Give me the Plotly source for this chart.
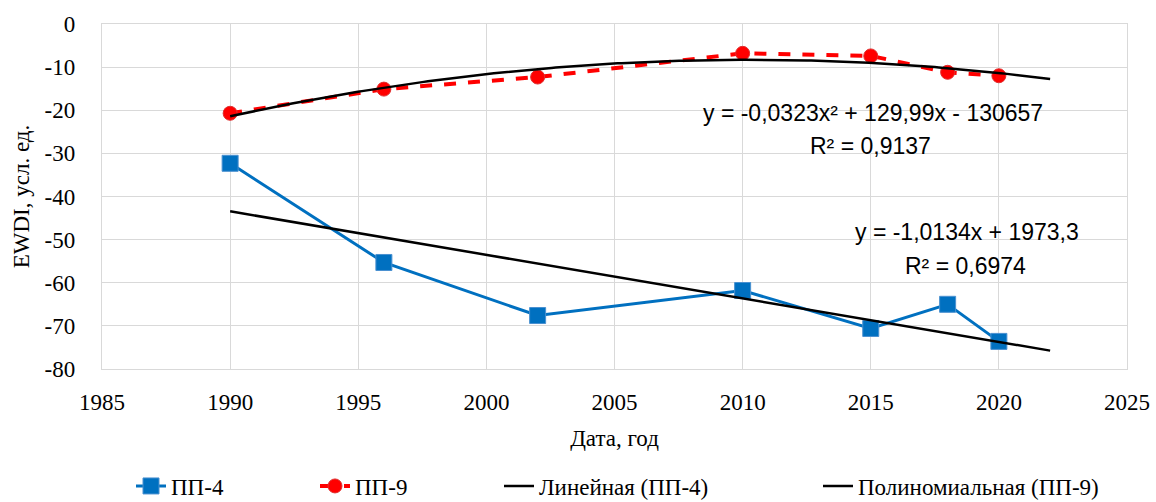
import numpy as np
import plotly.graph_objects as go

years = [1990, 1996, 2002, 2010, 2015, 2018, 2020]
pp4 = [-32.3, -55.3, -67.6, -61.8, -70.6, -65.0, -73.6]
pp9 = [-20.7, -15.1, -12.3, -6.8, -7.4, -11.2, -12.0]
trend_end = 2022
names = ["ПП-4", "ПП-9", "Линейная (ПП-4)", "Полиномиальная (ПП-9)"]
eq_lin = ["y = -1,0134x + 1973,3", "R² = 0,6974"]
eq_poly = ["y = -0,0323x² + 129,99x - 130657", "R² = 0,9137"]
y_tickvals = [0, -10, -20, -30, -40, -50, -60, -70, -80]
y_ticktext = ["0", "-10", "-20", "-30", "-40", "-50", "-60", "-70", "-80"]

x = np.array(years, dtype=float)
xc = x.mean()
xt = np.linspace(years[0], trend_end, 200)
lin = np.polyfit(x - xc, pp4, 1)
poly = np.polyfit(x - xc, pp9, 2)

fig = go.Figure()
fig.add_trace(go.Scatter(x=years, y=pp4, name=names[0], mode="lines+markers",
                         line=dict(color="#0070C0", width=3), legend="legend",
                         marker=dict(symbol="square", size=16, color="#0070C0",
                                     line=dict(color="#4a90d0", width=1))))
fig.add_trace(go.Scatter(x=years, y=pp9, name=names[1], mode="lines+markers",
                         line=dict(color="#FF0000", width=4, dash="dash"), legend="legend2",
                         marker=dict(symbol="circle", size=14, color="#FF0000",
                                     line=dict(color="#e03030", width=1))))
fig.add_trace(go.Scatter(x=xt, y=np.polyval(lin, xt - xc), name=names[2], mode="lines",
                         line=dict(color="black", width=2.5), legend="legend3"))
fig.add_trace(go.Scatter(x=xt, y=np.polyval(poly, xt - xc), name=names[3], mode="lines",
                         line=dict(color="black", width=2.5), legend="legend4"))

ann_font = dict(family="Liberation Sans, Arial", size=23, color="black")
for txt, xx, yy in zip(eq_poly, [2015.1, 2015.0], [-20.7, -28.4]):
    fig.add_annotation(x=xx, y=yy, text=txt, showarrow=False, font=ann_font,
                       xanchor="center", yanchor="middle")
for txt, xx, yy in zip(eq_lin, [2018.75, 2018.7], [-48.3, -56.1]):
    fig.add_annotation(x=xx, y=yy, text=txt, showarrow=False, font=ann_font,
                       xanchor="center", yanchor="middle")

grid = "#d9d9d9"
axis_font = dict(family="Liberation Serif", size=23, color="black")


def leg(xpix):
    return dict(orientation="h", xref="container", yref="container",
                x=xpix / 1156, xanchor="left", y=(502 - 486) / 502, yanchor="middle",
                font=axis_font, bgcolor="rgba(0,0,0,0)")


fig.update_layout(
    width=1156, height=502,
    margin=dict(l=102, r=29, t=24, b=133, autoexpand=False),
    plot_bgcolor="white", paper_bgcolor="white",
    font=axis_font,
    xaxis=dict(range=[1985, 2025], dtick=5, tick0=1985, showgrid=True, gridcolor=grid,
               gridwidth=1.3, showline=True, linecolor=grid, linewidth=1.3, mirror=True,
               zeroline=False, ticks="", tickfont=axis_font, ticklabelstandoff=12,
               automargin=False, ticklabeloverflow="allow",
               title=dict(text="Дата, год", font=axis_font, standoff=16)),
    yaxis=dict(range=[-80, 0], tickvals=y_tickvals, ticktext=y_ticktext,
               showgrid=True, gridcolor=grid, gridwidth=1.3,
               showline=True, linecolor=grid, linewidth=1.3, mirror=True,
               zeroline=True, zerolinecolor=grid, zerolinewidth=1.3, ticks="",
               tickfont=axis_font, ticklabelstandoff=21, automargin=False,
               title=dict(text="EWDI, усл. ед.", font=axis_font, standoff=8)),
    legend=leg(172 - 41),
    legend2=leg(356 - 41),
    legend3=leg(540 - 41),
    legend4=leg(859 - 41),
    showlegend=True,
)

fig.write_html("out.html", config={"displayModeBar": False},
               post_script="document.body.style.margin='0';document.body.style.overflow='hidden';")
